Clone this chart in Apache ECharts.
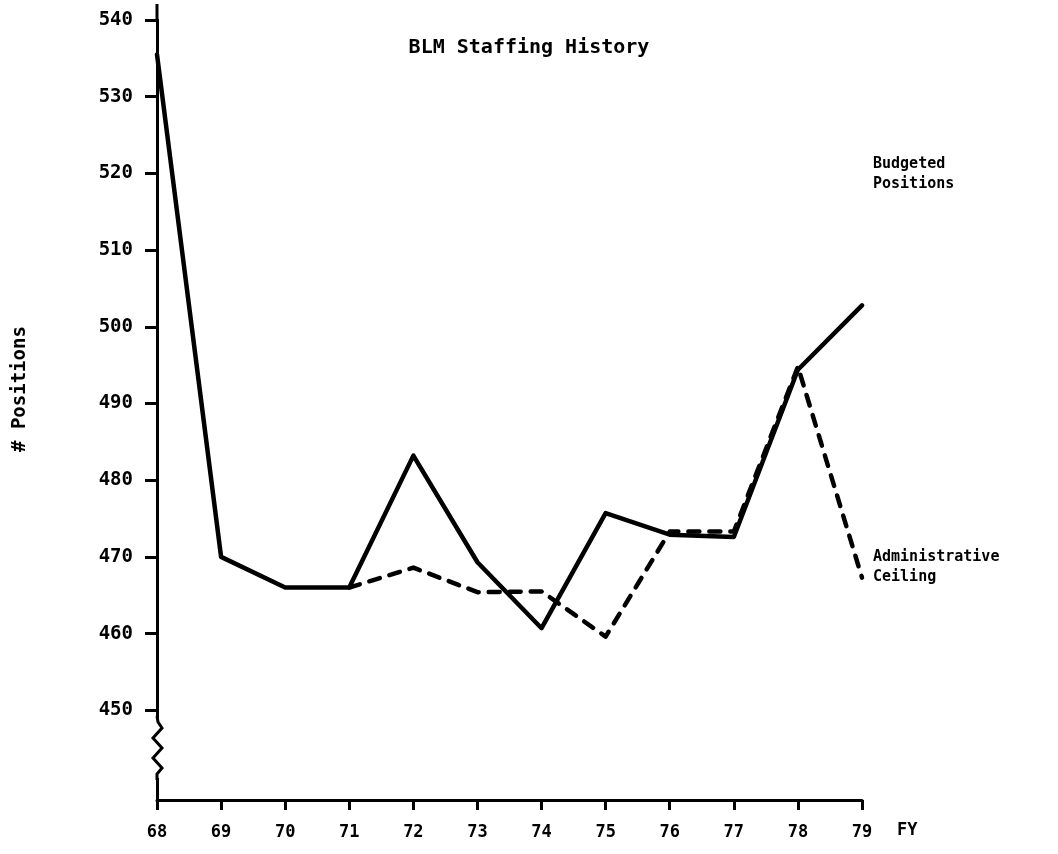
<!DOCTYPE html>
<html>
<head>
<meta charset="utf-8">
<script src="https://cdn.jsdelivr.net/npm/echarts@6/dist/echarts.min.js"></script>
<style>
html,body{margin:0;padding:0;background:#fff;}
#main{width:1058px;height:854px;}
</style>
</head>
<body>
<div id="main"></div>
<script>
const years = ['68','69','70','71','72','73','74','75','76','77','78','79'];
const budgeted = [535.5, 470, 466, 466, 483.2, 469.3, 460.7, 475.7, 472.9, 472.6, 494.4, 502.8];
const ceiling = [null, null, null, 466, 468.6, 465.4, 465.5, 459.6, 473.3, 473.3, 494.8, 467.3];
const yTicks = [450, 460, 470, 480, 490, 500, 510, 520, 530, 540];

const FONT = '"DejaVu Sans Mono", "Liberation Mono", monospace';
const chart = echarts.init(document.getElementById('main'), null, {renderer: 'canvas'});

const option = {
  backgroundColor: '#fff',
  animation: false,
  title: {
    text: 'BLM Staffing History',
    left: 'center',
    top: 33,
    textStyle: {fontFamily: FONT, fontWeight: 'bold', fontSize: 20, color: '#000'}
  },
  grid: {left: 157, right: 196, top: 20, bottom: 54},
  xAxis: {
    type: 'category',
    data: years,
    boundaryGap: false,
    axisLine: {lineStyle: {color: '#000', width: 3}},
    axisTick: {length: 10, lineStyle: {color: '#000', width: 3}},
    axisLabel: {margin: 24, color: '#000', fontFamily: FONT, fontWeight: 'bold', fontSize: 17},
    splitLine: {show: false}
  },
  yAxis: {
    type: 'value',
    min: 438.3,
    max: 540,
    axisLine: {show: true, lineStyle: {color: '#000', width: 3}},
    axisTick: {show: true, length: 12, customValues: yTicks, lineStyle: {color: '#000', width: 3}},
    axisLabel: {margin: 24, customValues: yTicks, color: '#000', fontFamily: FONT, fontWeight: 'bold', fontSize: 19},
    splitLine: {show: false}
  },
  series: [
    {
      name: 'Budgeted Positions',
      type: 'line',
      data: budgeted,
      symbol: 'none',
      z: 3,
      lineStyle: {color: '#000', width: 4.5, cap: 'round', join: 'round'}
    },
    {
      name: 'Administrative Ceiling',
      type: 'line',
      data: ceiling,
      symbol: 'none',
      connectNulls: false,
      z: 2,
      lineStyle: {color: '#000', width: 4.5, type: [11, 10], cap: 'round', join: 'round'}
    }
  ],
  graphic: [
    {type: 'line', z: 100, shape: {x1: 157, y1: 4, x2: 157, y2: 22}, style: {stroke: '#000', lineWidth: 3}},
    {type: 'rect', z: 100, shape: {x: 150, y: 718, width: 14, height: 60}, style: {fill: '#fff'}},
    {type: 'polyline', z: 101, shape: {points: [[157,716],[158,722],[162,728],[153,738],[162,748],[153,758],[162,768],[157,774],[157,780]]}, style: {stroke: '#000', lineWidth: 3, fill: null}},
    {type: 'text', z: 100, left: 873, top: 154, style: {text: 'Budgeted\nPositions', fontFamily: FONT, fontWeight: 'bold', fontSize: 15, lineHeight: 20, fill: '#000'}},
    {type: 'text', z: 100, left: 873, top: 547, style: {text: 'Administrative\nCeiling', fontFamily: FONT, fontWeight: 'bold', fontSize: 15, lineHeight: 20, fill: '#000'}},
    {type: 'text', z: 100, left: 897, top: 822, style: {text: 'FY', fontFamily: FONT, fontWeight: 'bold', fontSize: 17, fill: '#000'}},
    {type: 'text', z: 100, x: 11, y: 452, rotation: Math.PI / 2, style: {text: '# Positions', fontFamily: FONT, fontWeight: 'bold', fontSize: 19, fill: '#000'}}
  ]
};
chart.setOption(option);
</script>
</body>
</html>
